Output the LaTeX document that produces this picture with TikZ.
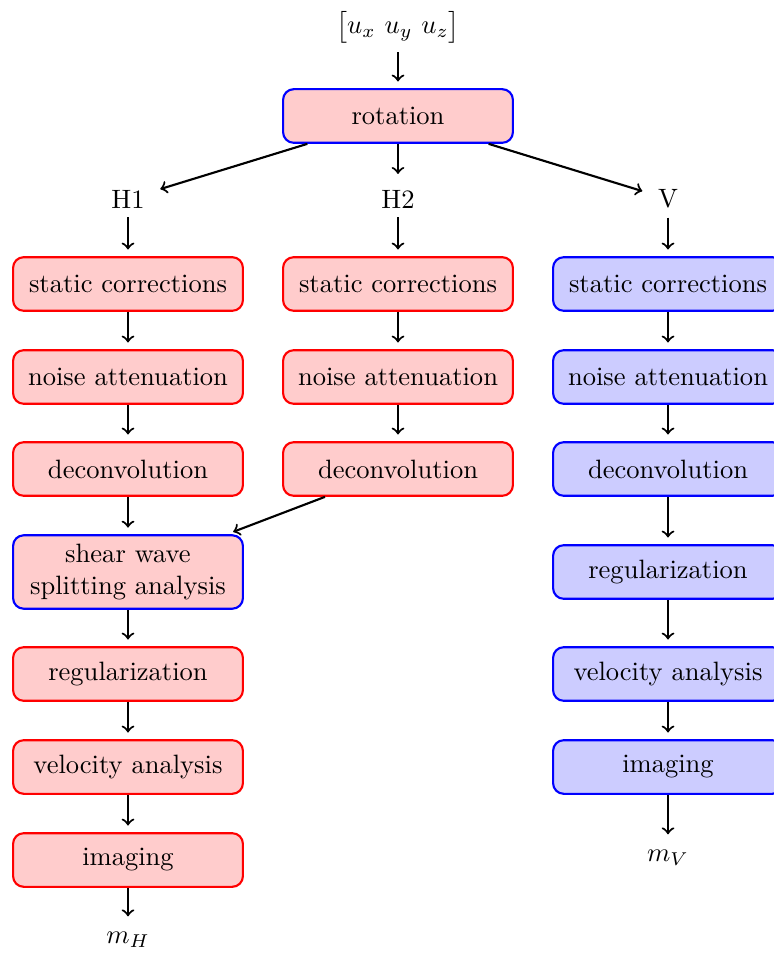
\documentclass[tikz,border=0pt]{standalone}
\usetikzlibrary{positioning}
\begin{document}
\begin{tikzpicture}[x=0.3768pt,y=-0.3768pt,
  redbox/.style={draw=red,fill=red!20,thick,rounded corners=4pt,minimum width=86.6pt,minimum height=20.2pt,align=center},
  bluebox/.style={draw=blue,fill=blue!20,thick,rounded corners=4pt,minimum width=86.6pt,minimum height=20.2pt,align=center},
  rotbox/.style={draw=blue,fill=red!20,thick,rounded corners=4pt,minimum width=86.6pt,minimum height=20.2pt,align=center},
  lbl/.style={inner sep=3.33pt},
  arr/.style={->,thick,shorten >=2.5pt}]
\useasboundingbox (0,0) rectangle (774,954);
\node[lbl] (top) at (398,27) {$\bigl[u_x\ u_y\ u_z\bigr]$};
\node[rotbox] (rot) at (398,116) {rotation};
\node[lbl] (H1) at (128,199) {H1};
\node[lbl] (H2) at (398,199) {H2};
\node[lbl] (V) at (668,199) {V};
% left column
\node[redbox] (L1) at (128,284) {static corrections};
\node[redbox] (L2) at (128,377) {noise attenuation};
\node[redbox] (L3) at (128,469) {deconvolution};
\node[rotbox] (L4) at (128,572) {shear wave\\splitting analysis};
\node[redbox] (L5) at (128,674) {regularization};
\node[redbox] (L6) at (128,767) {velocity analysis};
\node[redbox] (L7) at (128,860) {imaging};
\node[lbl] (mH) at (128,940) {$m_H$};
% middle column
\node[redbox] (M1) at (398,284) {static corrections};
\node[redbox] (M2) at (398,377) {noise attenuation};
\node[redbox] (M3) at (398,469) {deconvolution};
% right column
\node[bluebox] (R1) at (668,284) {static corrections};
\node[bluebox] (R2) at (668,377) {noise attenuation};
\node[bluebox] (R3) at (668,469) {deconvolution};
\node[bluebox] (R4) at (668,572) {regularization};
\node[bluebox] (R5) at (668,674) {velocity analysis};
\node[bluebox] (R6) at (668,767) {imaging};
\node[lbl] (mV) at (668,858) {$m_V$};
% connectors
\draw[arr] (top) -- (rot);
\draw[arr] (rot) -- (H1);
\draw[arr] (rot) -- (H2);
\draw[arr] (rot) -- (V);
\draw[arr] (H1) -- (L1);
\draw[arr] (L1) -- (L2);
\draw[arr] (L2) -- (L3);
\draw[arr] (L3) -- (L4);
\draw[arr] (L4) -- (L5);
\draw[arr] (L5) -- (L6);
\draw[arr] (L6) -- (L7);
\draw[arr] (L7) -- (mH);
\draw[arr] (H2) -- (M1);
\draw[arr] (M1) -- (M2);
\draw[arr] (M2) -- (M3);
\draw[arr] (M3) -- (L4);
\draw[arr] (V) -- (R1);
\draw[arr] (R1) -- (R2);
\draw[arr] (R2) -- (R3);
\draw[arr] (R3) -- (R4);
\draw[arr] (R4) -- (R5);
\draw[arr] (R5) -- (R6);
\draw[arr] (R6) -- (mV);
\end{tikzpicture}
\end{document}
